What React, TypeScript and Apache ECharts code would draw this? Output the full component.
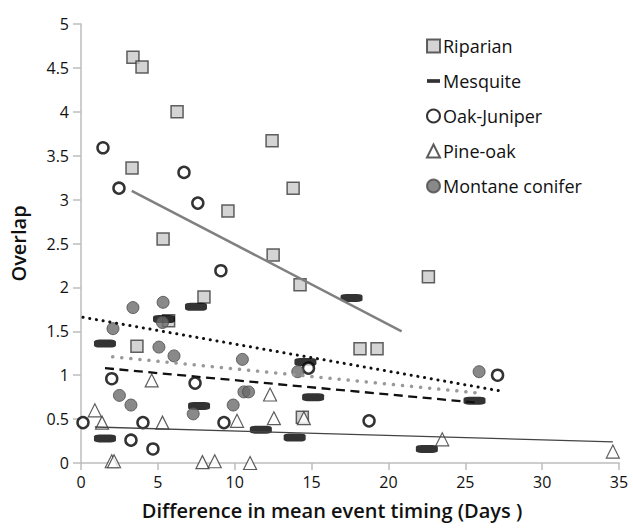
import React, { useEffect, useRef } from "react";
import * as echarts from "echarts";

const xTicks = [0, 5, 10, 15, 20, 25, 30, 35];
const yTicks = [0, 0.5, 1, 1.5, 2, 2.5, 3, 3.5, 4, 4.5, 5];

const seriesNames = ["Riparian", "Mesquite", "Oak-Juniper", "Pine-oak", "Montane conifer"];

const riparian = [
  [3.38, 4.62], [3.97, 4.51], [6.25, 4.0], [3.32, 3.36], [9.56, 2.87], [5.34, 2.55],
  [12.43, 3.67], [13.8, 3.13], [12.5, 2.37], [14.25, 2.03], [8.0, 1.89], [5.7, 1.62],
  [3.64, 1.33], [18.15, 1.3], [19.26, 1.3], [22.6, 2.12], [14.4, 0.52],
];

const mesquite = [
  [1.56, 1.36], [1.56, 0.28], [5.4, 1.64], [7.48, 1.78], [7.68, 0.65], [11.7, 0.38],
  [13.9, 0.29], [14.6, 1.15], [15.1, 0.75], [17.6, 1.88], [22.5, 0.16], [25.6, 0.71],
];

const oakJuniper = [
  [1.43, 3.59], [2.47, 3.13], [6.7, 3.31], [7.6, 2.96], [9.1, 2.19], [2.0, 0.96],
  [7.42, 0.91], [0.13, 0.46], [4.03, 0.46], [9.3, 0.46], [3.25, 0.26], [4.68, 0.16],
  [18.74, 0.48], [27.1, 1.0], [14.8, 1.08],
];

const pineOak = [
  [0.9, 0.6], [1.37, 0.46], [2.0, 0.02], [2.15, 0.02], [4.6, 0.94], [5.3, 0.46],
  [7.9, 0.01], [8.7, 0.02], [10.15, 0.48], [11.0, 0.0], [12.3, 0.78], [12.55, 0.51],
  [14.5, 0.51], [23.5, 0.27], [34.6, 0.13],
];

const montaneConifer = [
  [3.38, 1.77], [5.34, 1.83], [5.3, 1.6], [2.08, 1.53], [5.07, 1.32], [6.05, 1.22],
  [2.5, 0.77], [3.25, 0.66], [7.3, 0.56], [9.9, 0.66], [10.5, 1.18], [10.6, 0.81],
  [10.9, 0.81], [14.1, 1.04], [25.9, 1.04],
];

// linear trendline endpoints
const riparianTrend = [[3.3, 3.1], [20.86, 1.5]];
const mesquiteTrend = [[1.56, 1.08], [25.6, 0.69]];
const oakJuniperTrend = [[0.13, 1.66], [27.3, 0.82]];
const pineOakTrend = [[0.9, 0.41], [34.6, 0.24]];
const montaneTrend = [[2.06, 1.21], [25.7, 0.8]];

const FONT = "'Open Sans', 'Noto Sans', sans-serif";

export default function App() {
  const ref = useRef<HTMLDivElement>(null);

  useEffect(() => {
    document.body.style.margin = "0";
    const chart = echarts.init(ref.current as HTMLDivElement, null, { renderer: "svg" });

    const trend = (name: string, data: number[][], lineStyle: any) => ({
      name,
      type: "line",
      data,
      symbol: "none",
      showSymbol: false,
      silent: true,
      z: 3,
      lineStyle,
    });

    chart.setOption({
      animation: false,
      backgroundColor: "#ffffff",
      textStyle: { fontFamily: FONT },
      grid: {
        left: 81,
        top: 24,
        right: 14,
        bottom: 67,
        containLabel: false,
        outerBoundsMode: "none",
      },
      legend: {
        orient: "vertical",
        left: 421,
        top: 32,
        itemWidth: 13,
        itemHeight: 13,
        itemGap: 17,
        selectedMode: false,
        textStyle: { fontFamily: FONT, fontSize: 18, color: "#111", padding: [0, 0, 0, -2] },
        data: [
          { name: seriesNames[0], icon: "rect" },
          { name: seriesNames[1], icon: "path://M0,0M14,14M0,5h14v4h-14z" },
          { name: seriesNames[2], icon: "circle" },
          { name: seriesNames[3], icon: "triangle" },
          { name: seriesNames[4], icon: "circle" },
        ],
      },
      xAxis: {
        type: "value",
        min: xTicks[0],
        max: xTicks[xTicks.length - 1],
        interval: 5,
        name: "Difference in mean event timing (Days )",
        nameLocation: "middle",
        nameGap: 37,
        nameTextStyle: {
          fontFamily: FONT,
          fontSize: 20,
          fontWeight: 600,
          color: "#111",
          padding: [0, 36, 0, 0],
        },
        axisLine: { show: true, lineStyle: { color: "#bdbdbd", width: 1.5 } },
        axisTick: { show: true, length: 7, lineStyle: { color: "#bdbdbd", width: 1.5 } },
        axisLabel: { fontSize: 16, color: "#111", margin: 11, fontFamily: FONT },
        splitLine: { show: false },
      },
      yAxis: {
        type: "value",
        min: yTicks[0],
        max: yTicks[yTicks.length - 1],
        interval: 0.5,
        name: "Overlap",
        nameLocation: "middle",
        nameGap: 53,
        nameTextStyle: { fontFamily: FONT, fontSize: 20, fontWeight: 600, color: "#111" },
        axisLine: { show: true, lineStyle: { color: "#bdbdbd", width: 1.5 } },
        axisTick: { show: true, length: 8, lineStyle: { color: "#bdbdbd", width: 1.5 } },
        axisLabel: { fontSize: 16, color: "#111", margin: 12, fontFamily: FONT },
        splitLine: { show: false },
      },
      series: [
        {
          name: seriesNames[0],
          type: "scatter",
          data: riparian,
          symbol: "rect",
          symbolSize: 12,
          itemStyle: { color: "#c9c9c9", borderColor: "#3a3a3a", borderWidth: 1.5 },
        },
        {
          name: seriesNames[1],
          type: "scatter",
          data: mesquite,
          symbol: "roundRect",
          symbolSize: [22, 8],
          itemStyle: { color: "#000000" },
        },
        {
          name: seriesNames[2],
          type: "scatter",
          data: oakJuniper,
          symbol: "circle",
          symbolSize: 11,
          itemStyle: { color: "#ffffff", borderColor: "#000000", borderWidth: 2.5 },
        },
        {
          name: seriesNames[3],
          type: "scatter",
          data: pineOak,
          symbol: "triangle",
          symbolSize: 13,
          itemStyle: { color: "#ffffff", borderColor: "#333333", borderWidth: 1.2 },
        },
        {
          name: seriesNames[4],
          type: "scatter",
          data: montaneConifer,
          symbol: "circle",
          symbolSize: 12,
          itemStyle: { color: "#6b6b6b", borderColor: "#4a4a4a", borderWidth: 1 },
        },
        trend("Riparian trend", riparianTrend, { color: "#808080", width: 2.5 }),
        trend("Mesquite trend", mesquiteTrend, { color: "#111111", width: 2.3, type: [9, 5.5] }),
        trend("Oak-Juniper trend", oakJuniperTrend, { color: "#111111", width: 3, type: [0.1, 6.7], cap: "round" }),
        trend("Pine-oak trend", pineOakTrend, { color: "#444444", width: 1.3 }),
        trend("Montane conifer trend", montaneTrend, { color: "#999999", width: 3.5, type: [0.1, 9], cap: "round" }),
      ],
    });

    return () => chart.dispose();
  }, []);

  return (
    <div
      ref={ref}
      style={{ position: "absolute", left: 0, top: 0, width: 633, height: 530 }}
    />
  );
}
